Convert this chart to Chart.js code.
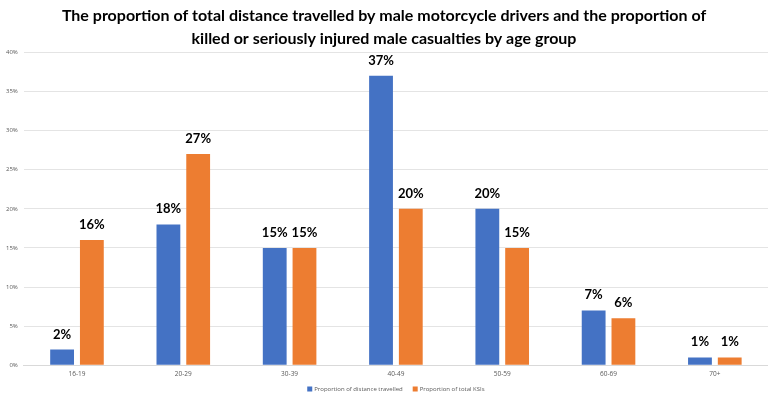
<!DOCTYPE html>
<html>
<head>
<meta charset="utf-8">
<script src="https://cdn.jsdelivr.net/npm/chart.js@4/dist/chart.umd.min.js"></script>
<style>
  html, body { margin: 0; padding: 0; background: #fff; }
  #wrap { width: 768px; height: 397px; position: relative; }
</style>
</head>
<body>
<div id="wrap"><canvas id="chart"></canvas></div>
<script>
  const ageGroups = ["16-19", "20-29", "30-39", "40-49", "50-59", "60-69", "70+"];
  const distanceShare = [2, 18, 15, 37, 20, 7, 1];
  const ksiShare = [16, 27, 15, 20, 15, 6, 1];
  const yTicks = [0, 5, 10, 15, 20, 25, 30, 35, 40];

  // value labels above each bar
  const barLabels = {
    id: "barLabels",
    afterDatasetsDraw(chart) {
      const ctx = chart.ctx;
      ctx.save();
      ctx.font = "bold 13px Lato, 'Open Sans', sans-serif";
      ctx.fillStyle = "#000";
      ctx.textAlign = "center";
      ctx.textBaseline = "alphabetic";
      chart.data.datasets.forEach((ds, i) => {
        chart.getDatasetMeta(i).data.forEach((bar, j) => {
          ctx.fillText(ds.data[j] + "%", bar.x, bar.y - 11);
        });
      });
      ctx.restore();
    },
  };

  // compact legend under the axis (built-in one reserves too much height)
  const bottomLegend = {
    id: "bottomLegend",
    afterDraw(chart) {
      const ctx = chart.ctx;
      const area = chart.chartArea;
      ctx.save();
      ctx.font = "6px 'Open Sans', sans-serif";
      ctx.textBaseline = "middle";
      const items = chart.data.datasets.map((ds) => ({
        text: ds.label,
        color: ds.backgroundColor,
        w: 7 + ctx.measureText(ds.label).width,
      }));
      const gap = 10;
      const total = items.reduce((s, it) => s + it.w, 0) + gap * (items.length - 1);
      let x = (area.left + area.right) / 2 - total / 2;
      const y = chart.height - 8;
      items.forEach((it) => {
        ctx.fillStyle = it.color;
        ctx.fillRect(x, y - 2.5, 5, 5);
        ctx.fillStyle = "#595959";
        ctx.fillText(it.text, x + 7, y);
        x += it.w + gap;
      });
      ctx.restore();
    },
  };

  new Chart(document.getElementById("chart"), {
    type: "bar",
    data: {
      labels: ageGroups,
      datasets: [
        {
          label: "Proportion of distance travelled",
          data: distanceShare,
          backgroundColor: "#4472c4",
        },
        {
          label: "Proportion of total KSIs",
          data: ksiShare,
          backgroundColor: "#ed7d31",
        },
      ],
    },
    options: {
      responsive: true,
      maintainAspectRatio: false,
      animation: false,
      categoryPercentage: 0.56,
      barPercentage: 0.8,
      layout: { padding: { left: 0, right: 0, top: 4, bottom: 14 } },
      plugins: {
        title: {
          display: true,
          text: [
            "The proportion of total distance travelled by male motorcycle drivers and the proportion of",
            "killed or seriously injured male casualties by age group",
          ],
          color: "#000",
          font: { family: "Lato, 'Open Sans', sans-serif", size: 16, weight: "bold", lineHeight: 1.45 },
          padding: { top: 0, bottom: 2 },
        },
        legend: { display: false },
        tooltip: { enabled: false },
      },
      scales: {
        x: {
          grid: { display: false, drawTicks: false },
          border: { color: "#d9d9d9" },
          ticks: { color: "#595959", font: { family: "'Open Sans', sans-serif", size: 6.5 }, padding: 5 },
        },
        y: {
          min: 0,
          max: 40,
          afterBuildTicks: (axis) => { axis.ticks = yTicks.map((v) => ({ value: v })); },
          grid: { color: "#e4e4e4", drawTicks: false },
          border: { display: false },
          ticks: {
            color: "#595959",
            font: { family: "'Open Sans', sans-serif", size: 6 },
            padding: 6,
            callback: (v) => v + "%",
          },
        },
      },
    },
    plugins: [barLabels, bottomLegend],
  });
</script>
</body>
</html>
